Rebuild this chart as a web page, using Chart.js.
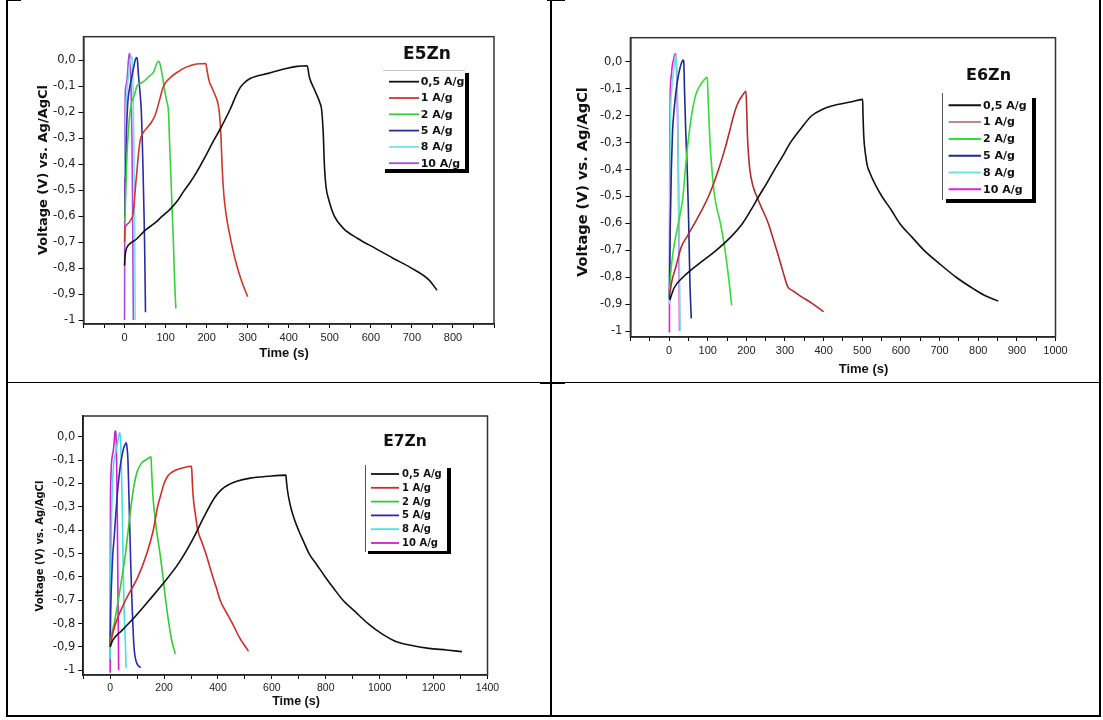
<!DOCTYPE html>
<html>
<head>
<meta charset="utf-8">
<script src="https://cdn.jsdelivr.net/npm/chart.js@4.4.1/dist/chart.umd.min.js"></script>
<style>
html,body{margin:0;padding:0;background:#fff;}
body{width:1103px;height:720px;position:relative;overflow:hidden;}
.ln{position:absolute;background:#000;}
canvas{position:absolute;}
</style>
</head>
<body>
<div class="ln" style="left:6px;top:0;width:2px;height:717px"></div>
<div class="ln" style="left:6px;top:0;width:15px;height:1px"></div>
<div class="ln" style="left:550px;top:0;width:2px;height:717px"></div>
<div class="ln" style="left:547px;top:0;width:18px;height:1px"></div>
<div class="ln" style="left:6px;top:382px;width:1095px;height:1px"></div>
<div class="ln" style="left:540px;top:382px;width:25px;height:2px"></div>
<div class="ln" style="left:1099px;top:0;width:2px;height:717px"></div>
<div class="ln" style="left:6px;top:715px;width:1095px;height:2px"></div>

<canvas id="c1" width="540" height="378" style="left:8px;top:2px"></canvas>
<canvas id="c2" width="545" height="378" style="left:552px;top:2px"></canvas>
<canvas id="c3" width="540" height="331" style="left:8px;top:384px"></canvas>

<script>
// ---------- shared labels ----------
const SERIES_LABELS = ['0,5 A/g', '1 A/g', '2 A/g', '5 A/g', '8 A/g', '10 A/g'];
const Y_TICK_VALUES = [0, -0.1, -0.2, -0.3, -0.4, -0.5, -0.6, -0.7, -0.8, -0.9, -1];
const Y_TICK_LABELS = ['0,0', '-0,1', '-0,2', '-0,3', '-0,4', '-0,5', '-0,6', '-0,7', '-0,8', '-0,9', '-1'];

// ---------- E5Zn : [time (s), voltage (V)] ----------
const E5_X_TICKS = [-100, -50, 0, 50, 100, 150, 200, 250, 300, 350, 400, 450, 500, 550, 600, 650, 700, 750, 800, 850, 900];
const E5_X_LABELS = ['', '', '0', '', '100', '', '200', '', '300', '', '400', '', '500', '', '600', '', '700', '', '800', '', ''];
const E5_05 = [[0,-0.79],[1.5,-0.75],[6,-0.72],[14,-0.705],[28,-0.69],[50,-0.655],[75,-0.625],[92,-0.6],[110,-0.575],[127,-0.545],[144,-0.505],[160,-0.47],[176,-0.43],[197,-0.37],[217,-0.31],[233,-0.265],[257,-0.19],[272,-0.135],[282,-0.105],[290,-0.09],[307,-0.07],[350,-0.051],[394,-0.032],[420,-0.024],[445,-0.022],[450,-0.064],[463,-0.115],[476,-0.165],[480,-0.19],[484,-0.28],[487,-0.41],[491,-0.49],[498,-0.54],[511,-0.6],[533,-0.647],[568,-0.686],[611,-0.724],[655,-0.763],[699,-0.8],[742,-0.846],[761,-0.885]];
const E5_1 = [[0,-0.7],[1.5,-0.645],[8,-0.63],[15,-0.615],[21,-0.59],[24,-0.54],[27,-0.48],[30,-0.43],[34,-0.36],[38,-0.31],[45,-0.28],[55,-0.26],[65,-0.24],[75,-0.21],[85,-0.155],[95,-0.1],[110,-0.07],[130,-0.045],[150,-0.027],[175,-0.015],[198,-0.013],[201,-0.04],[206,-0.08],[214,-0.11],[222,-0.14],[228,-0.17],[232,-0.22],[235,-0.3],[238,-0.42],[242,-0.52],[248,-0.6],[256,-0.67],[270,-0.77],[285,-0.85],[300,-0.91]];
const E5_2 = [[1,-0.62],[3,-0.5],[6,-0.36],[9,-0.28],[12,-0.22],[17,-0.165],[24,-0.135],[30,-0.1],[38,-0.09],[46,-0.083],[58,-0.065],[71,-0.045],[78,-0.015],[82,-0.005],[86,-0.012],[92,-0.06],[98,-0.12],[103,-0.16],[107,-0.2],[110,-0.33],[113,-0.45],[116,-0.58],[119,-0.7],[122,-0.85],[125,-0.955]];
const E5_5 = [[1,-0.6],[3,-0.4],[5,-0.26],[8,-0.16],[12,-0.11],[17,-0.07],[22,-0.03],[26,0.0],[29,0.01],[31,0.005],[34,-0.06],[38,-0.13],[41,-0.2],[43,-0.3],[45,-0.42],[47,-0.56],[49,-0.72],[51,-0.97]];
const E5_8 = [[1,-0.45],[3,-0.22],[6,-0.12],[10,-0.06],[14,0.0],[17,0.015],[19,0.0],[21,-0.12],[23,-0.35],[24.5,-0.6],[25.5,-0.85],[26,-1.0]];
const E5_10 = [[0,-1.0],[0.5,-0.6],[1,-0.3],[2,-0.12],[4,-0.095],[7,-0.06],[9,-0.01],[11,0.02],[12.5,0.025],[14,0.0],[16,-0.12],[18,-0.3],[19.5,-0.55],[20.5,-0.8],[21.5,-1.0]];

// ---------- E6Zn ----------
const E6_X_TICKS = [-100, -50, 0, 50, 100, 150, 200, 250, 300, 350, 400, 450, 500, 550, 600, 650, 700, 750, 800, 850, 900, 950, 1000];
const E6_X_LABELS = ['', '', '0', '', '100', '', '200', '', '300', '', '400', '', '500', '', '600', '', '700', '', '800', '', '900', '', '1000'];
const E6_05 = [[2,-0.885],[13,-0.84],[36,-0.8],[77,-0.75],[122,-0.7],[160,-0.65],[190,-0.6],[212,-0.55],[232,-0.5],[253,-0.45],[273,-0.4],[294,-0.35],[314,-0.3],[340,-0.25],[369,-0.2],[396,-0.177],[423,-0.163],[469,-0.149],[501,-0.139],[502,-0.2],[504,-0.28],[508,-0.34],[513,-0.385],[519,-0.41],[535,-0.46],[551,-0.5],[575,-0.55],[597,-0.6],[628,-0.65],[660,-0.7],[700,-0.75],[743,-0.8],[790,-0.845],[820,-0.87],[852,-0.888]];
const E6_1 = [[2,-0.86],[8,-0.81],[18,-0.76],[31,-0.69],[48,-0.645],[66,-0.6],[85,-0.55],[102,-0.5],[116,-0.45],[128,-0.4],[139,-0.35],[149,-0.3],[158,-0.25],[167,-0.2],[176,-0.16],[185,-0.135],[193,-0.118],[199,-0.109],[201,-0.18],[203,-0.28],[206,-0.35],[209,-0.4],[217,-0.46],[227,-0.5],[242,-0.55],[257,-0.6],[270,-0.66],[283,-0.72],[295,-0.78],[307,-0.835],[320,-0.85],[340,-0.87],[370,-0.897],[400,-0.928]];
const E6_2 = [[1,-0.86],[4,-0.79],[11,-0.7],[24,-0.6],[36,-0.5],[42,-0.4],[49,-0.3],[58,-0.2],[66,-0.14],[72,-0.11],[82,-0.083],[90,-0.068],[99,-0.057],[101,-0.13],[103,-0.2],[106,-0.3],[111,-0.4],[118,-0.5],[133,-0.6],[145,-0.7],[154,-0.8],[158,-0.85],[162,-0.905]];
const E6_5 = [[1,-0.88],[3,-0.62],[6,-0.4],[9,-0.26],[13,-0.18],[18,-0.11],[23,-0.06],[28,-0.025],[32,-0.005],[36,0.007],[38,0.003],[40,-0.1],[43,-0.25],[47,-0.4],[50,-0.55],[52,-0.68],[54,-0.82],[56,-0.9],[57.5,-0.953]];
const E6_8 = [[1,-0.9],[2,-0.5],[4,-0.2],[7,-0.1],[11,-0.04],[14,0.0],[17,0.025],[19,0.01],[22,-0.15],[24,-0.4],[26,-0.65],[27.5,-0.85],[28.5,-1.0]];
const E6_10 = [[1,-1.005],[1.5,-0.6],[2,-0.3],[3,-0.12],[6,-0.05],[8,-0.017],[12,0.01],[16,0.03],[18,0.02],[20,-0.06],[22,-0.2],[24,-0.4],[25.5,-0.65],[26.5,-0.85],[27,-1.0]];

// ---------- E7Zn ----------
const E7_X_TICKS = [-100, 0, 100, 200, 300, 400, 500, 600, 700, 800, 900, 1000, 1100, 1200, 1300, 1400];
const E7_X_LABELS = ['', '0', '', '200', '', '400', '', '600', '', '800', '', '1000', '', '1200', '', '1400'];
const E7_05 = [[0,-0.9],[10,-0.871],[44,-0.829],[97,-0.764],[150,-0.693],[202,-0.621],[255,-0.54],[308,-0.436],[348,-0.343],[388,-0.26],[414,-0.225],[440,-0.205],[470,-0.19],[520,-0.177],[586,-0.169],[652,-0.164],[654,-0.19],[658,-0.23],[664,-0.27],[672,-0.31],[684,-0.355],[699,-0.4],[718,-0.45],[738,-0.5],[768,-0.55],[798,-0.6],[830,-0.65],[864,-0.7],[910,-0.75],[957,-0.8],[1010,-0.845],[1063,-0.878],[1115,-0.893],[1182,-0.906],[1248,-0.913],[1305,-0.92]];
const E7_1 = [[0,-0.9],[8,-0.85],[20,-0.8],[57,-0.7],[103,-0.6],[136,-0.5],[160,-0.4],[176,-0.3],[190,-0.24],[200,-0.2],[216,-0.165],[242,-0.143],[270,-0.133],[302,-0.126],[304,-0.17],[306,-0.22],[310,-0.28],[316,-0.33],[325,-0.4],[340,-0.45],[355,-0.5],[368,-0.55],[381,-0.6],[395,-0.65],[408,-0.7],[430,-0.75],[454,-0.8],[480,-0.86],[513,-0.918]];
const E7_2 = [[0,-0.9],[5,-0.85],[15,-0.8],[30,-0.7],[44,-0.6],[57,-0.5],[67,-0.4],[77,-0.3],[90,-0.2],[100,-0.15],[115,-0.115],[135,-0.097],[152,-0.086],[154,-0.15],[157,-0.22],[162,-0.3],[167,-0.35],[172,-0.4],[185,-0.5],[196,-0.6],[206,-0.7],[218,-0.8],[228,-0.87],[242,-0.93]];
const E7_5 = [[0,-0.9],[2,-0.74],[6,-0.6],[10,-0.5],[15,-0.43],[21,-0.33],[27,-0.24],[33,-0.17],[39,-0.114],[45,-0.075],[51,-0.045],[56,-0.032],[60,-0.026],[63,-0.05],[66,-0.1],[68,-0.18],[70,-0.27],[73,-0.4],[76,-0.53],[79,-0.64],[82,-0.74],[86,-0.85],[90,-0.92],[96,-0.96],[104,-0.98],[113,-0.988]];
const E7_8 = [[0,-0.95],[2,-0.6],[5,-0.35],[8.5,-0.2],[12,-0.13],[15,-0.1],[20,-0.07],[24,-0.045],[30,-0.01],[35,0.017],[38,0.005],[41,-0.1],[43,-0.2],[45,-0.314],[49,-0.6],[52,-0.75],[54,-0.814],[57,-0.9],[59,-0.99]];
const E7_10 = [[0,-1.01],[0.5,-0.6],[1,-0.3],[2,-0.2],[4,-0.13],[6,-0.1],[9,-0.075],[12,-0.057],[15,-0.02],[18,0.021],[20.5,0.026],[22,0.0],[24,-0.1],[25.5,-0.25],[27,-0.386],[29,-0.671],[30.5,-0.85],[31.5,-1.0]];

// ---------- decoration plugin (frame, heading, axis titles, legend) ----------
const decoPlugin = {
  id: 'deco',
  beforeDatasetsDraw(chart, args, o) {
    const a = chart.chartArea, ctx = chart.ctx;
    ctx.save();
    ctx.strokeStyle = o.frameColor;
    ctx.lineWidth = 1.5;
    ctx.strokeRect(a.left, a.top, a.right - a.left, a.bottom - a.top);
    ctx.restore();
  },
  afterDraw(chart, args, o) {
    const ctx = chart.ctx;
    ctx.save();
    ctx.fillStyle = '#111';
    ctx.textAlign = 'center';
    ctx.textBaseline = 'middle';
    ctx.font = o.heading.font;
    ctx.fillText(o.heading.text, o.heading.x, o.heading.y);
    ctx.font = o.xTitle.font;
    ctx.fillText(o.xTitle.text, o.xTitle.x, o.xTitle.y);
    ctx.save();
    ctx.translate(o.yTitle.x, o.yTitle.y);
    ctx.rotate(-Math.PI / 2);
    ctx.font = o.yTitle.font;
    ctx.fillText(o.yTitle.text, 0, 0);
    ctx.restore();
    const L = o.legend;
    ctx.fillStyle = '#fff';
    ctx.fillRect(L.x, L.y, L.w, L.h);
    ctx.fillStyle = '#000';
    ctx.fillRect(L.x + L.w, L.y + L.soy, L.shw, L.h + L.shh - L.soy);
    ctx.fillRect(L.x + L.sox, L.y + L.h, L.w + L.shw - L.sox, L.shh);
    ctx.strokeStyle = L.borderColor;
    ctx.lineWidth = 1;
    ctx.beginPath();
    if (L.border === 'top') { ctx.moveTo(L.x, L.y + 0.5); ctx.lineTo(L.x + L.w, L.y + 0.5); }
    else { ctx.moveTo(L.x + 0.5, L.y); ctx.lineTo(L.x + 0.5, L.y + L.h + 1); }
    ctx.stroke();
    ctx.font = L.font;
    ctx.textAlign = 'left';
    chart.data.datasets.forEach((ds, i) => {
      const y = L.y + L.first + i * L.rowH;
      ctx.strokeStyle = ds.legendColor || ds.borderColor;
      ctx.lineWidth = L.lineW;
      ctx.beginPath();
      ctx.moveTo(L.x1, y); ctx.lineTo(L.x2, y);
      ctx.stroke();
      ctx.fillStyle = '#111';
      ctx.fillText(ds.label, L.tx, y + 0.5);
    });
    ctx.restore();
  }
};

function makeChart(id, c) {
  return new Chart(document.getElementById(id), {
    type: 'scatter',
    data: {
      datasets: c.series.map((s, i) => ({
        label: SERIES_LABELS[i],
        data: s.map(p => ({ x: p[0], y: p[1] })),
        borderColor: c.colors[i],
        legendColor: c.legendColors ? c.legendColors[i] : undefined,
        backgroundColor: c.colors[i],
        borderWidth: 1.6,
        showLine: true,
        pointRadius: 0,
        cubicInterpolationMode: 'monotone',
        fill: false
      }))
    },
    options: {
      responsive: false,
      animation: false,
      events: [],
      layout: { padding: { left: 0, right: c.padRight, top: c.padTop, bottom: 0 } },
      scales: {
        x: {
          type: 'linear', position: 'bottom', min: c.xMin, max: c.xMax,
          afterBuildTicks: s => { s.ticks = c.xTicks.map(v => ({ value: v })); },
          afterFit: s => { s.height = c.xH; },
          ticks: {
            autoSkip: false, maxRotation: 0, minRotation: 0, padding: 3, color: '#222',
            font: { family: 'Liberation Sans', size: c.xTickSize },
            callback: (v, i) => c.xLabels[i]
          },
          grid: { display: true, drawOnChartArea: false, drawTicks: true, tickLength: 4, color: '#000', lineWidth: 1 },
          border: { display: true, color: '#000', width: 1.5 }
        },
        y: {
          type: 'linear', position: 'left', min: c.yMin, max: c.yMax,
          afterBuildTicks: s => { s.ticks = Y_TICK_VALUES.map(v => ({ value: v })); },
          afterFit: s => { s.width = c.yW; },
          ticks: {
            autoSkip: false, padding: 3, color: '#222',
            font: { family: 'DejaVu Sans', size: 11.5 },
            callback: (v, i) => Y_TICK_LABELS[i]
          },
          grid: { display: true, drawOnChartArea: false, drawTicks: true, tickLength: 5, color: '#000', lineWidth: 1 },
          border: { display: true, color: '#000', width: 1.5 }
        }
      },
      plugins: {
        legend: { display: false },
        tooltip: { enabled: false },
        deco: c.deco
      }
    },
    plugins: [decoPlugin]
  });
}

makeChart('c1', {
  series: [E5_05, E5_1, E5_2, E5_5, E5_8, E5_10],
  colors: ['#111111', '#d0362c', '#3ccf3c', '#2a2aa8', '#80e0ea', '#ac48e0'],
  xTicks: E5_X_TICKS, xLabels: E5_X_LABELS, xMin: -100, xMax: 900, yMin: -1.015, yMax: 0.09,
  yW: 75.5, xH: 56, padRight: 54, padTop: 34.7, xTickSize: 11,
  deco: {
    frameColor: '#333',
    heading: { text: 'E5Zn', x: 419, y: 53, font: "bold 17px 'DejaVu Sans'" },
    yTitle: { text: 'Voltage (V) vs. Ag/AgCl', x: 36, y: 168, font: "bold 13px 'DejaVu Sans'" },
    xTitle: { text: 'Time (s)', x: 276, y: 351, font: "bold 13px 'Liberation Sans'" },
    legend: { x: 375, y: 68, w: 82, h: 99, first: 11.7, rowH: 16.3, x1: 381, x2: 411, tx: 412.7,
      lineW: 1.8, font: "bold 11px 'DejaVu Sans'", border: 'top', borderColor: '#c4c4c4',
      shw: 4, shh: 4, sox: 2, soy: 3 }
  }
});

makeChart('c2', {
  series: [E6_05, E6_1, E6_2, E6_5, E6_8, E6_10],
  colors: ['#111111', '#b52a2a', '#33dd33', '#1c2a8c', '#70e2e2', '#e020e0'],
  legendColors: ['#111111', '#c08888', '#33dd33', '#1c2a8c', '#70e2e2', '#e020e0'],
  xTicks: E6_X_TICKS, xLabels: E6_X_LABELS, xMin: -100, xMax: 1000, yMin: -1.022, yMax: 0.09,
  yW: 78.4, xH: 43, padRight: 41.5, padTop: 35.7, xTickSize: 11,
  deco: {
    frameColor: '#333',
    heading: { text: 'E6Zn', x: 436.5, y: 74, font: "bold 16px 'DejaVu Sans'" },
    yTitle: { text: 'Voltage (V) vs. Ag/AgCl', x: 31.5, y: 180, font: "bold 14.5px 'DejaVu Sans'" },
    xTitle: { text: 'Time (s)', x: 311.5, y: 367, font: "bold 13px 'Liberation Sans'" },
    legend: { x: 390, y: 91, w: 90, h: 106, first: 12.3, rowH: 16.8, x1: 396.6, x2: 429, tx: 431,
      lineW: 2, font: "bold 11px 'DejaVu Sans'", border: 'left', borderColor: '#555',
      shw: 4, shh: 4, sox: 4, soy: 5 }
  }
});

makeChart('c3', {
  series: [E7_05, E7_1, E7_2, E7_5, E7_8, E7_10],
  colors: ['#111111', '#d42a2a', '#33cc33', '#2a2ab0', '#45e0e0', '#d020d0'],
  xTicks: E7_X_TICKS, xLabels: E7_X_LABELS, xMin: -100, xMax: 1400, yMin: -1.02, yMax: 0.089,
  yW: 75.2, xH: 40, padRight: 60.5, padTop: 32, xTickSize: 10.5,
  deco: {
    frameColor: '#333',
    heading: { text: 'E7Zn', x: 397, y: 57.7, font: "bold 15.5px 'DejaVu Sans'" },
    yTitle: { text: 'Voltage (V) vs. Ag/AgCl', x: 32, y: 162, font: "bold 10px 'DejaVu Sans'" },
    xTitle: { text: 'Time (s)', x: 288, y: 317.7, font: "bold 12.5px 'Liberation Sans'" },
    legend: { x: 357, y: 81, w: 82, h: 86, first: 9, rowH: 13.8, x1: 363, x2: 391, tx: 394,
      lineW: 1.8, font: "bold 10px 'DejaVu Sans'", border: 'left', borderColor: '#555',
      shw: 4, shh: 3, sox: 3, soy: 3 }
  }
});
</script>
</body>
</html>
